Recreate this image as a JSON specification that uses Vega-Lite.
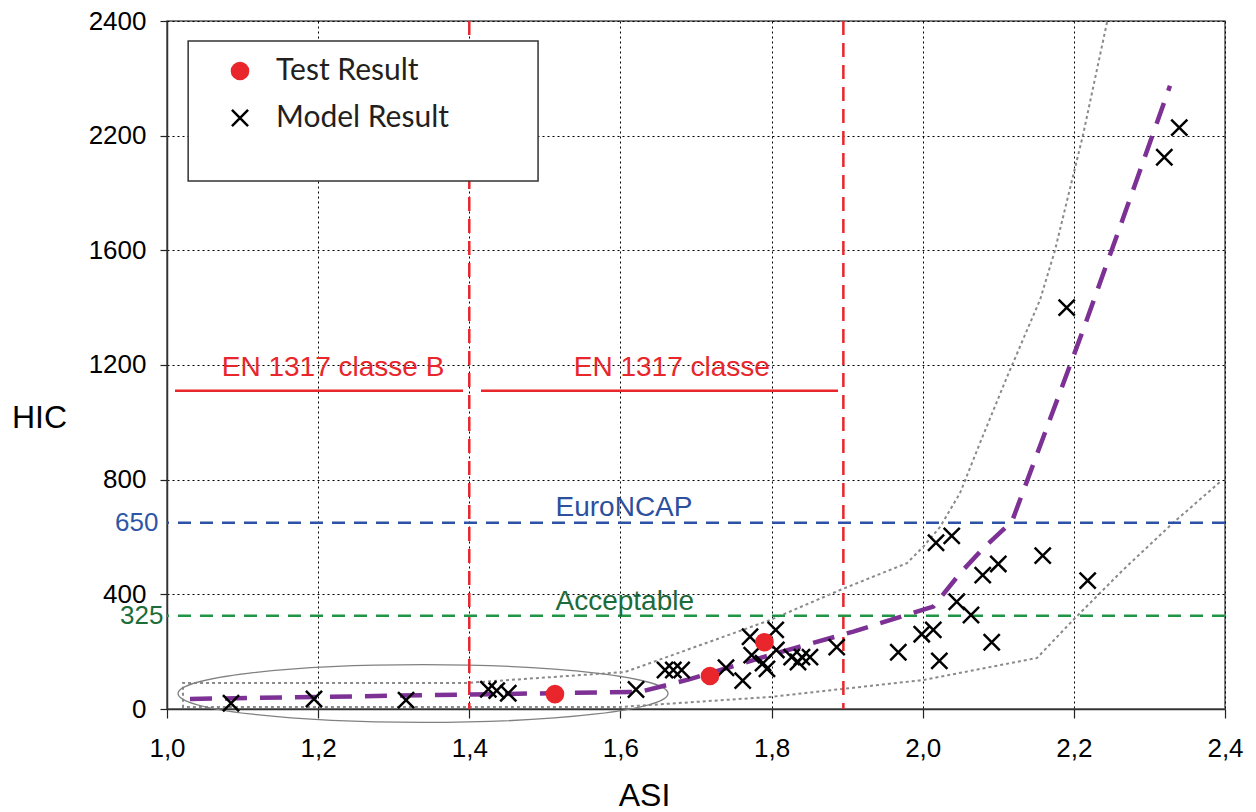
{
  "$schema": "https://vega.github.io/schema/vega-lite/v6.json",
  "width": 1058,
  "height": 688,
  "autosize": {"type": "none"},
  "padding": {"left": 167, "top": 21, "right": 31, "bottom": 103},
  "background": "white",
  "config": {
    "font": "Liberation Sans",
    "view": {"stroke": "#555555", "strokeWidth": 1.5},
    "axis": {
      "labelFont": "Liberation Sans",
      "titleFont": "Liberation Sans",
      "labelColor": "black",
      "titleColor": "black",
      "titleFontWeight": "normal",
      "grid": true,
      "gridColor": "black",
      "gridDash": [2, 3],
      "gridWidth": 1,
      "domainColor": "#333333",
      "domainWidth": 1.5,
      "tickColor": "#222222",
      "tickWidth": 1.2
    }
  },
  "datasets": {
    "pts": [
      {"type": "Model Result", "x": 1.0847, "y": 20},
      {"type": "Model Result", "x": 1.1945, "y": 35},
      {"type": "Model Result", "x": 1.3163, "y": 31},
      {"type": "Model Result", "x": 1.4252, "y": 69},
      {"type": "Model Result", "x": 1.4363, "y": 64},
      {"type": "Model Result", "x": 1.4516, "y": 55},
      {"type": "Model Result", "x": 1.6206, "y": 68},
      {"type": "Model Result", "x": 1.659, "y": 136},
      {"type": "Model Result", "x": 1.67, "y": 136},
      {"type": "Model Result", "x": 1.681, "y": 136},
      {"type": "Model Result", "x": 1.7397, "y": 144},
      {"type": "Model Result", "x": 1.7618, "y": 99},
      {"type": "Model Result", "x": 1.7715, "y": 252},
      {"type": "Model Result", "x": 1.7737, "y": 188},
      {"type": "Model Result", "x": 1.8063, "y": 206},
      {"type": "Model Result", "x": 1.7887, "y": 160},
      {"type": "Model Result", "x": 1.7939, "y": 140},
      {"type": "Model Result", "x": 1.8055, "y": 276},
      {"type": "Model Result", "x": 1.8266, "y": 181},
      {"type": "Model Result", "x": 1.835, "y": 164},
      {"type": "Model Result", "x": 1.8402, "y": 181},
      {"type": "Model Result", "x": 1.8508, "y": 181},
      {"type": "Model Result", "x": 1.8862, "y": 216},
      {"type": "Model Result", "x": 1.9677, "y": 198},
      {"type": "Model Result", "x": 1.9987, "y": 261},
      {"type": "Model Result", "x": 2.014, "y": 276},
      {"type": "Model Result", "x": 2.022, "y": 168},
      {"type": "Model Result", "x": 2.0176, "y": 580},
      {"type": "Model Result", "x": 2.0384, "y": 604},
      {"type": "Model Result", "x": 2.045, "y": 374},
      {"type": "Model Result", "x": 2.0639, "y": 328},
      {"type": "Model Result", "x": 2.0794, "y": 467},
      {"type": "Model Result", "x": 2.1, "y": 506},
      {"type": "Model Result", "x": 2.0913, "y": 233},
      {"type": "Model Result", "x": 2.1588, "y": 535},
      {"type": "Model Result", "x": 2.2183, "y": 448},
      {"type": "Model Result", "x": 2.1905, "y": 1400},
      {"type": "Model Result", "x": 2.3197, "y": 2087},
      {"type": "Model Result", "x": 2.3395, "y": 2214},
      {"type": "Test Result", "x": 1.5134, "y": 52},
      {"type": "Test Result", "x": 1.7185, "y": 115},
      {"type": "Test Result", "x": 1.7906, "y": 233}
    ],
    "trend": [
      {"x": 1.0304, "y": 35},
      {"x": 1.6259, "y": 60},
      {"x": 1.692, "y": 104},
      {"x": 1.7979, "y": 188},
      {"x": 1.9082, "y": 270},
      {"x": 1.9855, "y": 334},
      {"x": 2.014, "y": 357},
      {"x": 2.0493, "y": 473},
      {"x": 2.0802, "y": 561},
      {"x": 2.1181, "y": 654},
      {"x": 2.1993, "y": 1230},
      {"x": 2.2161, "y": 1350},
      {"x": 2.2699, "y": 1821},
      {"x": 2.3272, "y": 2287}
    ],
    "env": [
      {"o": 1, "x": 2.2439, "y": 2398},
      {"o": 2, "x": 2.2121, "y": 2201},
      {"o": 3, "x": 2.175, "y": 1600},
      {"o": 4, "x": 2.1552, "y": 1427},
      {"o": 5, "x": 2.1115, "y": 1158},
      {"o": 6, "x": 2.0758, "y": 928},
      {"o": 7, "x": 2.0493, "y": 753},
      {"o": 8, "x": 2.0229, "y": 635},
      {"o": 9, "x": 2.0004, "y": 565},
      {"o": 10, "x": 1.9792, "y": 509},
      {"o": 11, "x": 1.8906, "y": 415},
      {"o": 12, "x": 1.7979, "y": 310},
      {"o": 13, "x": 1.6061, "y": 129},
      {"o": 14, "x": 1.397, "y": 91},
      {"o": 15, "x": 1.0212, "y": 91},
      {"o": 16, "x": 1.0212, "y": 7},
      {"o": 17, "x": 1.5994, "y": 7},
      {"o": 18, "x": 1.7979, "y": 42},
      {"o": 19, "x": 2.0004, "y": 101},
      {"o": 20, "x": 2.1512, "y": 178},
      {"o": 21, "x": 2.1989, "y": 310},
      {"o": 22, "x": 2.265, "y": 485},
      {"o": 23, "x": 2.3312, "y": 649},
      {"o": 24, "x": 2.3934, "y": 792}
    ]
  },
  "layer": [
    {
      "data": {"name": "env"},
      "mark": {"type": "line", "color": "#8a8a8a", "strokeWidth": 2, "strokeDash": [3, 3]},
      "encoding": {
        "x": {
          "field": "x", "type": "quantitative",
          "scale": {"domain": [1.0, 2.4], "nice": false, "zero": false},
          "axis": {
            "values": [1.0, 1.2, 1.4, 1.6, 1.8, 2.0, 2.2, 2.4],
            "title": "ASI",
            "titleFontSize": 32,
            "titleX": 477,
            "titleY": 86,
            "titleAlign": "center",
            "titleBaseline": "middle",
            "labelFontSize": 26,
            "labelPadding": 17,
            "tickSize": 9,
            "labelFlush": false,
            "labelExpr": "replace(format(datum.value, '.1f'), '.', ',')"
          }
        },
        "y": {
          "field": "y", "type": "quantitative",
          "scale": {"domain": [0, 1600, 2200, 2400], "range": [688, 229.333, 114.667, 0], "nice": false, "zero": false},
          "axis": {
            "values": [0, 325, 400, 650, 800, 1200, 1600, 2200, 2400],
            "format": "d",
            "title": "HIC",
            "titleAngle": 0,
            "titleX": -128,
            "titleY": 396,
            "titleAlign": "center",
            "titleBaseline": "middle",
            "titleFontSize": 32,
            "labelFontSize": 26,
            "labelPadding": {"condition": [{"test": "datum.value == 650", "value": 2}, {"test": "datum.value == 325", "value": -3}], "value": 14},
            "tickSize": 7,
            "labelOverlap": false,
            "gridOpacity": {"condition": {"test": "datum.value == 325 || datum.value == 650", "value": 0}, "value": 1},
            "tickOpacity": {"condition": {"test": "datum.value == 325 || datum.value == 650", "value": 0}, "value": 1},
            "labelColor": {"condition": [{"test": "datum.value == 650", "value": "#2e56a6"}, {"test": "datum.value == 325", "value": "#1b6d3a"}], "value": "black"}
          }
        },
        "order": {"field": "o", "type": "quantitative"}
      }
    },
    {
      "data": {"values": [{"x": 1.3388, "y": 54}]},
      "mark": {"type": "point", "shape": "M-1,0A1,0.118,0,1,1,1,0A1,0.118,0,1,1,-1,0Z", "size": 240100, "filled": false, "stroke": "#808080", "strokeWidth": 1.3, "fillOpacity": 0},
      "encoding": {
        "x": {"field": "x", "type": "quantitative"},
        "y": {"field": "y", "type": "quantitative"}
      }
    },
    {
      "data": {"values": [{"x": 1.4}, {"x": 1.895}]},
      "mark": {"type": "rule", "color": "#e8262b", "strokeWidth": 2.5, "strokeDash": [14, 8]},
      "encoding": {"x": {"field": "x", "type": "quantitative"}}
    },
    {
      "data": {"values": [{"x": 1.0106, "x2": 1.3917, "y": 1110}, {"x": 1.4155, "x2": 1.8879, "y": 1110}]},
      "mark": {"type": "rule", "color": "#e8262b", "strokeWidth": 2.5},
      "encoding": {
        "x": {"field": "x", "type": "quantitative"},
        "x2": {"field": "x2"},
        "y": {"field": "y", "type": "quantitative"}
      }
    },
    {
      "data": {"values": [{"y": 650}]},
      "mark": {"type": "rule", "color": "#2b52a6", "strokeWidth": 2.5, "strokeDash": [13, 9]},
      "encoding": {"y": {"field": "y", "type": "quantitative"}}
    },
    {
      "data": {"values": [{"y": 325}]},
      "mark": {"type": "rule", "color": "#1f9545", "strokeWidth": 2.5, "strokeDash": [13, 9]},
      "encoding": {"y": {"field": "y", "type": "quantitative"}}
    },
    {
      "data": {"values": [{"x": 1.2197, "y": 1163, "t": "EN 1317 classe B"}, {"x": 1.668, "y": 1163, "t": "EN 1317 classe"}]},
      "mark": {"type": "text", "color": "#e8262b", "fontSize": 28, "font": "Liberation Sans", "align": "center", "baseline": "alphabetic"},
      "encoding": {
        "x": {"field": "x", "type": "quantitative"},
        "y": {"field": "y", "type": "quantitative"},
        "text": {"field": "t"}
      }
    },
    {
      "data": {"values": [{"x": 1.6047, "y": 673, "t": "EuroNCAP"}]},
      "mark": {"type": "text", "color": "#2c4f9e", "fontSize": 28, "font": "Liberation Sans", "align": "center", "baseline": "alphabetic"},
      "encoding": {
        "x": {"field": "x", "type": "quantitative"},
        "y": {"field": "y", "type": "quantitative"},
        "text": {"field": "t"}
      }
    },
    {
      "data": {"values": [{"x": 1.6057, "y": 345, "t": "Acceptable"}]},
      "mark": {"type": "text", "color": "#1c6b3b", "fontSize": 28, "font": "Liberation Sans", "align": "center", "baseline": "alphabetic"},
      "encoding": {
        "x": {"field": "x", "type": "quantitative"},
        "y": {"field": "y", "type": "quantitative"},
        "text": {"field": "t"}
      }
    },
    {
      "data": {"values": [{"x": 1.028, "x2": 1.491, "y": 2365, "y2": 1963}]},
      "mark": {"type": "rect", "fill": "white", "stroke": "#333333", "strokeWidth": 1.5},
      "encoding": {
        "x": {"field": "x", "type": "quantitative"},
        "x2": {"field": "x2"},
        "y": {"field": "y", "type": "quantitative"},
        "y2": {"field": "y2"}
      }
    },
    {
      "data": {"name": "trend"},
      "mark": {"type": "line", "color": "#7d3194", "strokeWidth": 4.5, "strokeDash": [22, 13]},
      "encoding": {
        "x": {"field": "x", "type": "quantitative"},
        "y": {"field": "y", "type": "quantitative"}
      }
    },
    {
      "data": {"name": "pts"},
      "mark": {"type": "point", "size": 260, "strokeWidth": 2.5, "opacity": 1},
      "encoding": {
        "x": {"field": "x", "type": "quantitative"},
        "y": {"field": "y", "type": "quantitative"},
        "fill": {
          "field": "type", "type": "nominal",
          "scale": {"domain": ["Test Result", "Model Result"], "range": ["#e8262b", "transparent"]},
          "legend": {
            "orient": "none",
            "legendX": 58,
            "legendY": 35,
            "title": null,
            "labelFont": "Lato",
            "labelFontSize": 30,
            "labelColor": "#231f20",
            "symbolStrokeWidth": 2.5,
            "symbolSize": 260,
            "rowPadding": 17,
            "labelOffset": 21,
            "padding": 0,
            "labelLimit": 400
          }
        },
        "stroke": {
          "field": "type", "type": "nominal",
          "scale": {"domain": ["Test Result", "Model Result"], "range": ["#e8262b", "#000000"]}
        },
        "shape": {
          "field": "type", "type": "nominal",
          "scale": {"domain": ["Test Result", "Model Result"], "range": ["circle", "M-1,-1L1,1M-1,1L1,-1"]}
        }
      }
    }
  ]
}
